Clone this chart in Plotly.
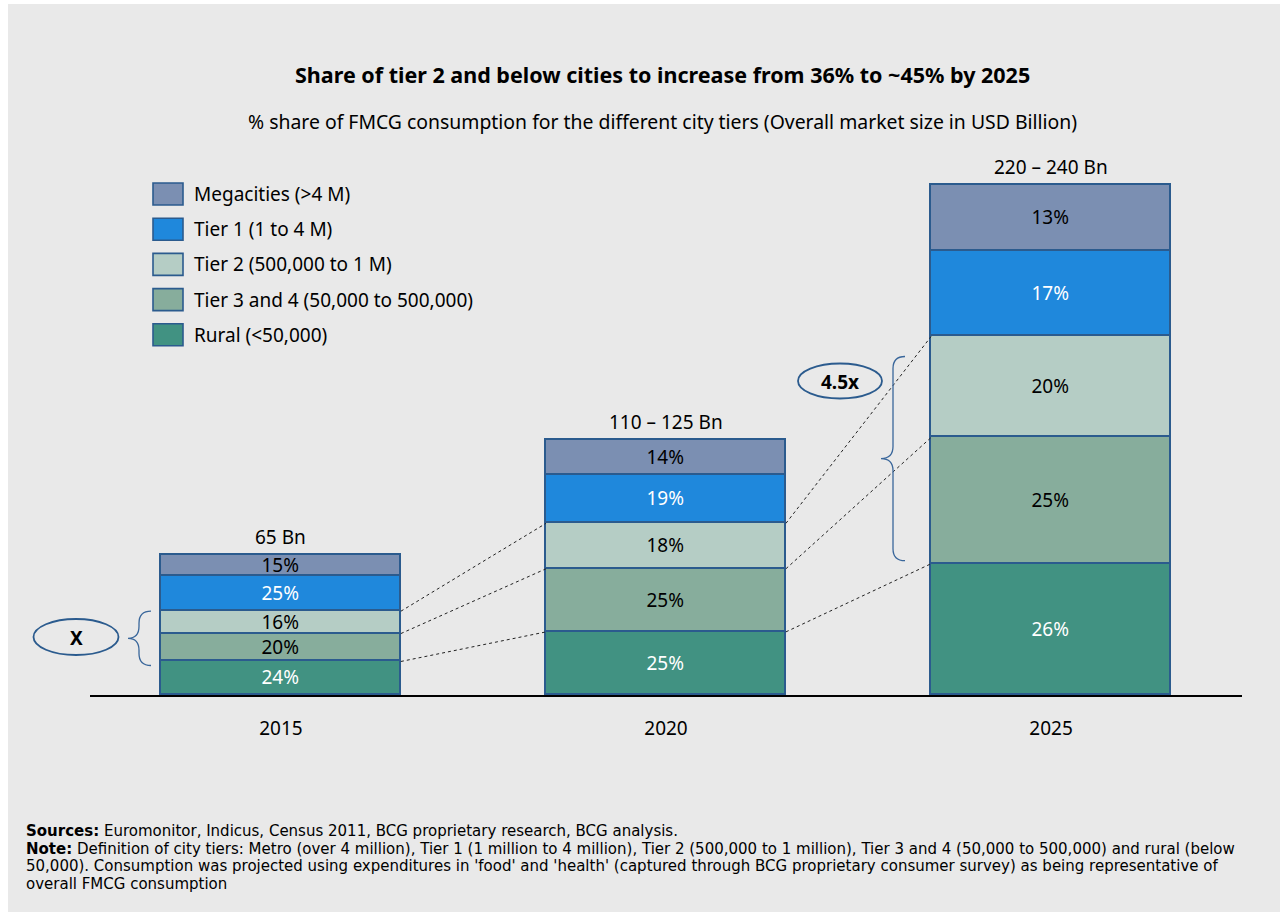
import plotly.graph_objects as go

# ---- data ---------------------------------------------------------------
years = ["2015", "2020", "2025"]
market_size_bn = [65, 117.5, 235]          # overall FMCG market, USD Bn
size_labels = ["65 Bn", "110 – 125 Bn", "220 – 240 Bn"]

tier_names = [
    "Rural (<50,000)",
    "Tier 3 and 4 (50,000 to 500,000)",
    "Tier 2 (500,000 to 1 M)",
    "Tier 1 (1 to 4 M)",
    "Megacities (>4 M)",
]
rural = [24, 25, 26]
tier34 = [20, 25, 25]
tier2 = [16, 18, 20]
tier1 = [25, 19, 17]
mega = [15, 14, 13]
shares = [rural, tier34, tier2, tier1, mega]   # stacked bottom -> top

colors = ["#419282", "#87ad9c", "#b5cdc5", "#1f88dc", "#7b8fb2"]
text_colors = ["white", "black", "black", "white", "black"]
edge = "#2b5b8e"

# ---- canvas geometry ----------------------------------------------------
W, H = 1280, 912
L, R, T, B = 90, 1242, 150, 695
XR = [-0.496, 2.496]
BAR_W = 0.623

seg_vals = [[s / 100 * m for s, m in zip(series, market_size_bn)] for series in shares]
bar_tops = [sum(v[i] for v in seg_vals) for i in range(len(years))]
YMAX = max(bar_tops) * (B - T) / (B - 185)
YR = [0, YMAX]


def px_x(px):
    return XR[0] + (px - L) / (R - L) * (XR[1] - XR[0])


def px_y(py):
    return (B - py) / (B - T) * YMAX


def pp_x(px):
    return (px - L) / (R - L)


def pp_y(py):
    return (B - py) / (B - T)


FONT = "Noto Sans"
FS = 19

fig = go.Figure()
xs = list(range(len(years)))
for name, vals, sh, col, tc in zip(tier_names, seg_vals, shares, colors, text_colors):
    fig.add_trace(go.Bar(
        x=xs, y=vals, name=name, width=BAR_W,
        marker=dict(color=col, line=dict(color=edge, width=1.6)),
        text=[f"{s}%" for s in sh], textposition="inside",
        insidetextanchor="middle", textangle=0, constraintext="none",
        textfont=dict(family=FONT, size=FS, color=tc),
        hoverinfo="skip", showlegend=False,
    ))

shapes = []
annotations = []

# white frame strips at the top and left edge
shapes.append(dict(type="rect", xref="paper", yref="paper", layer="above",
                   x0=pp_x(-2), x1=pp_x(8), y0=pp_y(H + 2), y1=pp_y(-2),
                   fillcolor="white", line=dict(width=0)))
shapes.append(dict(type="rect", xref="paper", yref="paper", layer="above",
                   x0=pp_x(-2), x1=pp_x(W + 2), y0=pp_y(4), y1=pp_y(-2),
                   fillcolor="white", line=dict(width=0)))

# dotted connectors between consecutive bars at the cumulative boundaries
cum = []
for i in range(len(years)):
    acc, c = 0, []
    for v in seg_vals:
        acc += v[i]
        c.append(acc)
    cum.append(c)
for i in range(len(years) - 1):
    for k in range(3):
        shapes.append(dict(type="line", xref="x", yref="y",
                           x0=i + BAR_W / 2, y0=cum[i][k],
                           x1=i + 1 - BAR_W / 2, y1=cum[i + 1][k],
                           line=dict(color="#222222", width=1, dash="dot")))


def brace(x_tip, x_mid, x_end, y_bot, y_top, color="#3a679b"):
    ym = (y_bot + y_top) / 2
    d = px_y(B - 12) - px_y(B)
    xt, xm, xe = px_x(x_tip), px_x(x_mid), px_x(x_end)
    path = (f"M {xe},{y_top} Q {xm},{y_top} {xm},{y_top - d} "
            f"L {xm},{ym + d} Q {xm},{ym} {xt},{ym} "
            f"Q {xm},{ym} {xm},{ym - d} "
            f"L {xm},{y_bot + d} Q {xm},{y_bot} {xe},{y_bot}")
    return dict(type="path", xref="x", yref="y", path=path,
                line=dict(color=color, width=1.3))


# braces around tier 2 + tier 3/4 blocks
shapes.append(brace(128, 139, 151, cum[0][0] - px_y(B - 4), cum[0][2]))
shapes.append(brace(881, 893, 905, cum[2][0] + px_y(B - 3), cum[2][2] - px_y(B - 20)))


def ellipse(cx, cy, w, h):
    return dict(type="circle", xref="paper", yref="paper",
                x0=pp_x(cx - w / 2), x1=pp_x(cx + w / 2),
                y0=pp_y(cy + h / 2), y1=pp_y(cy - h / 2),
                line=dict(color="#2b5b8e", width=1.8), fillcolor="rgba(0,0,0,0)")


shapes.append(ellipse(76, 637, 85, 36))
shapes.append(ellipse(840, 381, 84, 35))
for cx, cy, txt in [(76, 638, "<b>X</b>"), (840, 382, "<b>4.5x</b>")]:
    annotations.append(dict(x=pp_x(cx), y=pp_y(cy), xref="paper", yref="paper", text=txt,
                            showarrow=False, xanchor="center", yanchor="middle",
                            font=dict(family=FONT, size=FS, color="black")))

# market size labels above bars
for i, (lbl, top) in enumerate(zip(size_labels, bar_tops)):
    annotations.append(dict(x=i, y=top, xref="x", yref="y", text=lbl, showarrow=False,
                            xanchor="center", yanchor="middle", yshift=18,
                            font=dict(family=FONT, size=FS, color="black")))

# legend
legend_order = list(reversed(range(len(tier_names))))
for row, k in enumerate(legend_order):
    cy = 194 + row * 35.2
    shapes.append(dict(type="rect", xref="paper", yref="paper",
                       x0=pp_x(153), x1=pp_x(183), y0=pp_y(cy + 11), y1=pp_y(cy - 11),
                       fillcolor=colors[k], line=dict(color=edge, width=1.6)))
    annotations.append(dict(x=pp_x(192), y=pp_y(cy), xref="paper", yref="paper",
                            text=tier_names[k], showarrow=False, xanchor="left",
                            yanchor="middle",
                            font=dict(family=FONT, size=FS, color="black")))

# title and subtitle
annotations.append(dict(x=pp_x(662), y=pp_y(75), xref="paper", yref="paper",
                        text="<b>Share of tier 2 and below cities to increase from 36% to ~45% by 2025</b>",
                        showarrow=False, xanchor="center", yanchor="middle",
                        font=dict(family=FONT, size=21.5, color="black")))
annotations.append(dict(x=pp_x(662), y=pp_y(121), xref="paper", yref="paper",
                        text="% share of FMCG consumption for the different city tiers (Overall market size in USD Billion)",
                        showarrow=False, xanchor="center", yanchor="middle",
                        font=dict(family=FONT, size=19.4, color="black")))

# footnotes
foot = [
    "<b>Sources:</b> Euromonitor, Indicus, Census 2011, BCG proprietary research, BCG analysis.",
    "<b>Note:</b> Definition of city tiers: Metro (over 4 million), Tier 1 (1 million to 4 million), "
    "Tier 2 (500,000 to 1 million), Tier 3 and 4 (50,000 to 500,000) and rural (below",
    "50,000). Consumption was projected using expenditures in 'food' and 'health' (captured through "
    "BCG proprietary consumer survey) as being representative of",
    "overall FMCG consumption",
]
for j, line in enumerate(foot):
    annotations.append(dict(x=pp_x(24), y=pp_y(831 + j * 17.5), xref="paper", yref="paper",
                            text=line, showarrow=False, xanchor="left", yanchor="middle",
                            font=dict(family="DejaVu Sans", size=15, color="black")))

fig.update_layout(
    width=W, height=H,
    margin=dict(l=L, r=W - R, t=T, b=H - B, pad=0),
    paper_bgcolor="#e9e9e9", plot_bgcolor="rgba(0,0,0,0)",
    barmode="stack", bargap=0, showlegend=False,
    xaxis=dict(range=XR, tickvals=xs, ticktext=years, showgrid=False, zeroline=False,
               showline=True, linecolor="black", linewidth=1.5,
               ticks="outside", ticklen=15, tickcolor="rgba(0,0,0,0)",
               tickfont=dict(family=FONT, size=FS, color="black"), fixedrange=True),
    yaxis=dict(range=YR, visible=False, fixedrange=True),
    shapes=shapes, annotations=annotations,
    font=dict(family=FONT),
)

fig.write_html("out.html", config={"displayModeBar": False})
